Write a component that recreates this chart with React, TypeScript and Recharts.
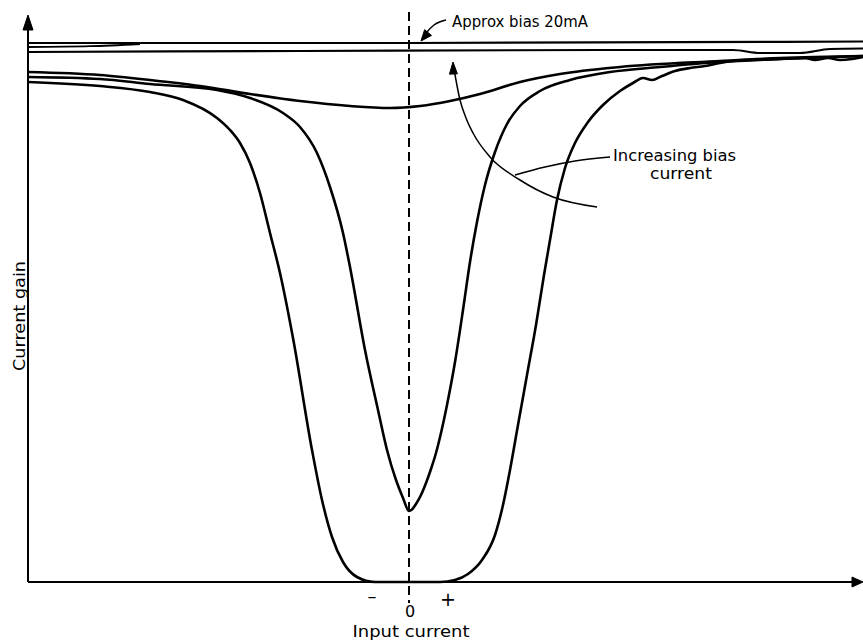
import React from 'react';
import { LineChart, Line, XAxis, YAxis, ReferenceLine, ReferenceDot } from 'recharts';

type P = { x: number; y: number };

// Input current (x, arbitrary units, 0 at centre) vs current gain (y, arbitrary units)
const bias20mA: P[] = [
  { x: -38.1, y: 53.9 }, { x: 0, y: 53.9 }, { x: 45.4, y: 54.05 },
];
const bias20mAWedge: P[] = [
  { x: -38.1, y: 53.5 }, { x: -31.9, y: 53.58 }, { x: -26.9, y: 53.8 },
];
const highBias: P[] = [
  { x: -38.1, y: 53.0 }, { x: -10.9, y: 53.1 }, { x: 19.1, y: 53.2 }, { x: 32.4, y: 53.2 },
  { x: 35.1, y: 52.9 }, { x: 39.1, y: 52.9 }, { x: 42.1, y: 53.3 }, { x: 45.4, y: 53.35 },
];
const mediumBias: P[] = [
  { x: -38.1, y: 51.0 }, { x: -30.9, y: 50.7 }, { x: -25.9, y: 50.2 }, { x: -20.9, y: 49.6 },
  { x: -15.9, y: 48.8 }, { x: -10.9, y: 48.1 }, { x: -5.9, y: 47.6 }, { x: -1.9, y: 47.4 },
  { x: 1.1, y: 47.6 }, { x: 4.1, y: 48.1 }, { x: 7.1, y: 48.8 }, { x: 11.1, y: 50.0 },
  { x: 15.1, y: 50.8 }, { x: 21.1, y: 51.5 }, { x: 31.1, y: 52.1 }, { x: 37.1, y: 52.4 },
  { x: 45.4, y: 52.6 },
];
const lowBias: P[] = [
  { x: -38.1, y: 50.5 }, { x: -30.9, y: 50.3 }, { x: -25.9, y: 49.8 }, { x: -19.2, y: 49.2 },
  { x: -15.9, y: 48.4 }, { x: -12.6, y: 46.9 }, { x: -10.9, y: 45.5 }, { x: -9.2, y: 42.9 },
  { x: -7.9, y: 39.5 }, { x: -6.6, y: 34.9 }, { x: -5.9, y: 31.5 }, { x: -4.4, y: 23.2 },
  { x: -3.1, y: 17.2 }, { x: -2.2, y: 13.2 }, { x: -1.3, y: 10.2 }, { x: -0.6, y: 8.4 },
  { x: 0, y: 7.1 }, { x: 0.3, y: 7.25 }, { x: 0.7, y: 7.8 }, { x: 1.2, y: 8.7 },
  { x: 1.7, y: 9.9 }, { x: 2.2, y: 11.3 }, { x: 2.7, y: 12.9 }, { x: 3.2, y: 14.9 },
  { x: 3.8, y: 17.7 }, { x: 4.6, y: 22.0 }, { x: 5.4, y: 27.2 }, { x: 6.1, y: 32.0 },
  { x: 6.8, y: 36.0 }, { x: 7.6, y: 39.7 }, { x: 8.6, y: 43.0 }, { x: 9.8, y: 45.8 },
  { x: 11.1, y: 47.6 }, { x: 13.1, y: 49.1 }, { x: 16.1, y: 50.2 }, { x: 20.1, y: 51.0 },
  { x: 25.1, y: 51.5 }, { x: 31.1, y: 52.0 }, { x: 37.1, y: 52.3 }, { x: 45.4, y: 52.6 },
];
const zeroBias: P[] = [
  { x: -38.1, y: 50.0 }, { x: -30.9, y: 49.6 }, { x: -25.9, y: 49.0 }, { x: -22.6, y: 48.2 },
  { x: -19.2, y: 46.4 }, { x: -17.9, y: 45.2 }, { x: -16.9, y: 43.9 }, { x: -15.9, y: 41.9 },
  { x: -14.9, y: 38.9 }, { x: -13.9, y: 34.9 }, { x: -12.9, y: 30.9 }, { x: -11.6, y: 24.4 },
  { x: -9.7, y: 13.2 }, { x: -8.7, y: 8.2 }, { x: -7.7, y: 4.5 }, { x: -6.6, y: 2.0 },
  { x: -5.2, y: 0.5 }, { x: -3.4, y: 0 }, { x: 3.1, y: 0 }, { x: 4.6, y: 0.2 },
  { x: 5.9, y: 0.8 }, { x: 7.3, y: 2.2 }, { x: 8.6, y: 4.7 }, { x: 9.4, y: 7.7 },
  { x: 10.1, y: 11.2 }, { x: 10.9, y: 15.7 }, { x: 11.8, y: 20.7 }, { x: 12.7, y: 25.7 },
  { x: 13.5, y: 30.7 }, { x: 14.1, y: 34.2 }, { x: 14.8, y: 38.2 }, { x: 15.6, y: 41.4 },
  { x: 16.6, y: 43.9 }, { x: 17.9, y: 46.0 }, { x: 19.4, y: 47.7 }, { x: 21.1, y: 49.1 },
  { x: 22.4, y: 49.9 }, { x: 23.4, y: 50.4 }, { x: 24.3, y: 50.2 }, { x: 25.3, y: 50.6 },
  { x: 26.6, y: 51.1 }, { x: 28.1, y: 51.4 }, { x: 29.6, y: 51.6 }, { x: 31.1, y: 51.9 },
  { x: 33.4, y: 52.2 }, { x: 37.1, y: 52.3 }, { x: 39.6, y: 52.4 }, { x: 40.6, y: 52.2 },
  { x: 41.9, y: 52.4 }, { x: 43.1, y: 52.2 }, { x: 44.3, y: 52.3 }, { x: 45.4, y: 52.5 },
];

// annotation strokes
const increasingArrow: P[] = [
  { x: 4.5, y: 51.3 }, { x: 5.1, y: 48.2 }, { x: 5.7, y: 46.4 }, { x: 6.4, y: 44.9 },
  { x: 8.1, y: 42.5 }, { x: 11.1, y: 40.2 }, { x: 14.4, y: 38.5 }, { x: 18.8, y: 37.5 },
];
const increasingLeader: P[] = [
  { x: 10.6, y: 40.7 }, { x: 13.6, y: 41.5 }, { x: 16.6, y: 42.1 }, { x: 20.1, y: 42.5 },
];
const biasArrow: P[] = [
  { x: 1.3, y: 54.3 }, { x: 1.8, y: 55.0 }, { x: 2.5, y: 55.7 }, { x: 3.7, y: 56.2 },
];

const X_DOMAIN: [number, number] = [-40.9, 45.4];
const Y_DOMAIN: [number, number] = [-5.9, 58.2];
const AXIS_X = -38.1;
const X_END = 44.6;
const Y_END = 55.6;

const curves = [
  { key: 'bias20', data: bias20mA, w: 2.2 },
  { key: 'bias20w', data: bias20mAWedge, w: 1.8 },
  { key: 'high', data: highBias, w: 2.2 },
  { key: 'medium', data: mediumBias, w: 2.6 },
  { key: 'low', data: lowBias, w: 2.6 },
  { key: 'zero', data: zeroBias, w: 2.6 },
  { key: 'incArrow', data: increasingArrow, w: 1.5 },
  { key: 'incLeader', data: increasingLeader, w: 1.5 },
  { key: 'biasArrow', data: biasArrow, w: 1.5 },
];

const arrowHeads = [
  { x: AXIS_X, y: 56.7, angle: -90, len: 15, half: 5 },
  { x: 45.4, y: 0, angle: 0, len: 11, half: 5 },
  { x: 4.4, y: 52.0, angle: -92, len: 12, half: 4 },
  { x: 1.2, y: 54.1, angle: 130, len: 11, half: 4.5 },
];

const texts = [
  { x: 4.3, y: 55.5, text: 'Approx bias 20mA', anchor: 'start', size: 16, len: 136, rot: false },
  { x: 20.4, y: 42.1, text: 'Increasing bias', anchor: 'start', size: 16, len: 123, rot: false },
  { x: 24.1, y: 40.3, text: 'current', anchor: 'start', size: 16, len: 62, rot: false },
  { x: -38.4, y: 26.6, text: 'Current gain', anchor: 'middle', size: 16, len: 110, rot: true },
  { x: 0.2, y: -5.5, text: 'Input current', anchor: 'middle', size: 16, len: 117, rot: false },
  { x: -3.7, y: -2.0, text: '–', anchor: 'middle', size: 18, len: 0, rot: false },
  { x: 0.1, y: -3.5, text: '0', anchor: 'middle', size: 16, len: 0, rot: false },
  { x: 3.9, y: -2.4, text: '+', anchor: 'middle', size: 19, len: 0, rot: false },
];

const FONT = '"DejaVu Sans", Verdana, sans-serif';

function ArrowHead({ cx, cy, angle, len, half }: any) {
  const a = (angle * Math.PI) / 180;
  const dx = Math.cos(a), dy = Math.sin(a);
  const bx = cx - dx * len, by = cy - dy * len;
  const px = -dy * half, py = dx * half;
  const pts = `${cx},${cy} ${bx + px},${by + py} ${bx - px},${by - py}`;
  return <polygon points={pts} fill="#000" stroke="#000" strokeWidth={1} />;
}

function TextMark({ cx, cy, t }: any) {
  const extra: any = t.len ? { textLength: t.len, lengthAdjust: 'spacingAndGlyphs' } : {};
  return (
    <text
      x={cx}
      y={cy}
      textAnchor={t.anchor}
      fontFamily={FONT}
      fontSize={t.size}
      fill="#000"
      transform={t.rot ? `rotate(-90, ${cx}, ${cy})` : undefined}
      {...extra}
    >
      {t.text}
    </text>
  );
}

export default function App() {
  return (
    <div style={{ position: 'absolute', left: 0, top: 0, width: 863, height: 641, background: '#fff' }}>
      <LineChart width={863} height={641} margin={{ top: 0, right: 0, bottom: 0, left: 0 }}>
        <XAxis type="number" dataKey="x" domain={X_DOMAIN} hide allowDataOverflow />
        <YAxis type="number" dataKey="y" domain={Y_DOMAIN} hide allowDataOverflow />
        <ReferenceLine
          segment={[{ x: AXIS_X, y: 0 }, { x: AXIS_X, y: Y_END }]}
          stroke="#000"
          strokeWidth={2}
          ifOverflow="visible"
        />
        <ReferenceLine
          segment={[{ x: AXIS_X, y: 0 }, { x: X_END, y: 0 }]}
          stroke="#000"
          strokeWidth={2}
          ifOverflow="visible"
        />
        <ReferenceLine
          segment={[{ x: 0, y: 57.0 }, { x: 0, y: -2.1 }]}
          stroke="#000"
          strokeWidth={2}
          strokeDasharray="9 5"
          ifOverflow="visible"
        />
        {curves.map((c) => (
          <Line
            key={c.key}
            data={c.data}
            dataKey="y"
            type="monotone"
            stroke="#000"
            strokeWidth={c.w}
            dot={false}
            activeDot={false}
            isAnimationActive={false}
          />
        ))}
        {arrowHeads.map((h, i) => (
          <ReferenceDot
            key={'ah' + i}
            x={h.x}
            y={h.y}
            r={0}
            ifOverflow="visible"
            shape={(p: any) => <ArrowHead cx={p.cx} cy={p.cy} angle={h.angle} len={h.len} half={h.half} />}
          />
        ))}
        {texts.map((t, i) => (
          <ReferenceDot
            key={'tx' + i}
            x={t.x}
            y={t.y}
            r={0}
            ifOverflow="visible"
            shape={(p: any) => <TextMark cx={p.cx} cy={p.cy} t={t} />}
          />
        ))}
      </LineChart>
    </div>
  );
}
